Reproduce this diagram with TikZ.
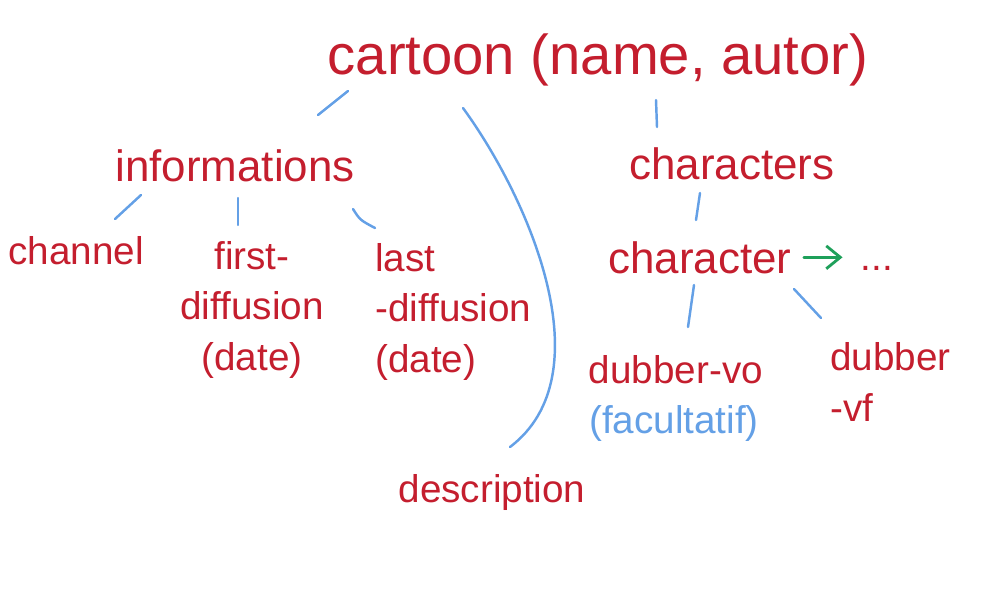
\documentclass[tikz,border=0pt]{standalone}
\usepackage{fontspec}
\setmainfont{Liberation Sans}
\usetikzlibrary{arrows.meta}
\definecolor{ink}{RGB}{196,30,46}
\definecolor{pen}{RGB}{100,160,230}
\definecolor{grn}{RGB}{30,160,90}
\begin{document}
\begin{tikzpicture}[x=0.02cm,y=-0.02cm,
  lbl/.style={text=ink, inner sep=0pt, anchor=base},
  big/.style={font=\fontsize{32}{36}\selectfont},
  mid/.style={font=\fontsize{25}{30}\selectfont},
  small/.style={font=\fontsize{22}{28.5}\selectfont},
  link/.style={draw=pen, line width=1.4pt, line cap=round},
  nextarrow/.style={draw=grn, line width=1.6pt, line cap=round,
    -{Straight Barb[length=8pt, width=13pt, line width=1.6pt]}}]
\useasboundingbox (0,0) rectangle (1000,600);

% nodes (for multi-line nodes, "base" is the baseline of the last line)
\node[lbl,big] (cartoon) at (598,74) {cartoon (name, autor)};
\node[lbl,mid] (info) at (235,181) {informations};
\node[lbl,mid] (chars) at (732,179) {characters};
\node[lbl,small] (channel) at (76,264) {channel};
\node[lbl,small,align=center] (first) at (252,370) {first-\\diffusion\\(date)};
\node[lbl,small,align=left,anchor=base west] (last) at (375,372) {last\\-diffusion\\(date)};
\node[lbl,small] (desc) at (492,502) {description};
\node[lbl,mid] (char) at (700,273) {character};
\node[lbl,small] (dots) at (877,270) {...};
\node[lbl,small] (dvo) at (676,383) {dubber-vo};
\node[lbl,small,text=pen] (fac) at (674,433) {(facultatif)};
\node[lbl,small,align=left,anchor=base west] (dvf) at (830,421) {dubber\\-vf};

% connector end points (the sketch leaves gaps between strokes and words)
\coordinate (cartoon-info-a) at (348,91);
\coordinate (cartoon-info-b) at (318,115);
\coordinate (cartoon-chars-a) at (656,100);
\coordinate (cartoon-chars-b) at (657,127);
\coordinate (cartoon-desc-a) at (463,108);
\coordinate (cartoon-desc-b) at (510,447);
\coordinate (info-channel-a) at (141,195);
\coordinate (info-channel-b) at (115,219);
\coordinate (info-first-a) at (238,198);
\coordinate (info-first-b) at (238,225);
\coordinate (info-last-a) at (353,209);
\coordinate (info-last-b) at (375,228);
\coordinate (chars-char-a) at (700,193);
\coordinate (chars-char-b) at (696,220);
\coordinate (char-dvo-a) at (694,285);
\coordinate (char-dvo-b) at (688,327);
\coordinate (char-dvf-a) at (794,289);
\coordinate (char-dvf-b) at (821,318);

% connectors
\draw[link] (cartoon-info-a) -- (cartoon-info-b);
\draw[link] (cartoon-chars-a) -- (cartoon-chars-b);
\draw[link] (cartoon-desc-a) .. controls (530,200) and (605,375) .. (cartoon-desc-b);
\draw[link] (info-channel-a) -- (info-channel-b);
\draw[link] (info-first-a) -- (info-first-b);
\draw[link] (info-last-a) .. controls (360,220) .. (info-last-b);
\draw[link] (chars-char-a) -- (chars-char-b);
\draw[link] (char-dvo-a) -- (char-dvo-b);
\draw[link] (char-dvf-a) -- (char-dvf-b);
\draw[nextarrow, shorten <=0.24cm, shorten >=0.36cm] (char.east) -- (char.east -| dots.west);
\end{tikzpicture}
\end{document}
